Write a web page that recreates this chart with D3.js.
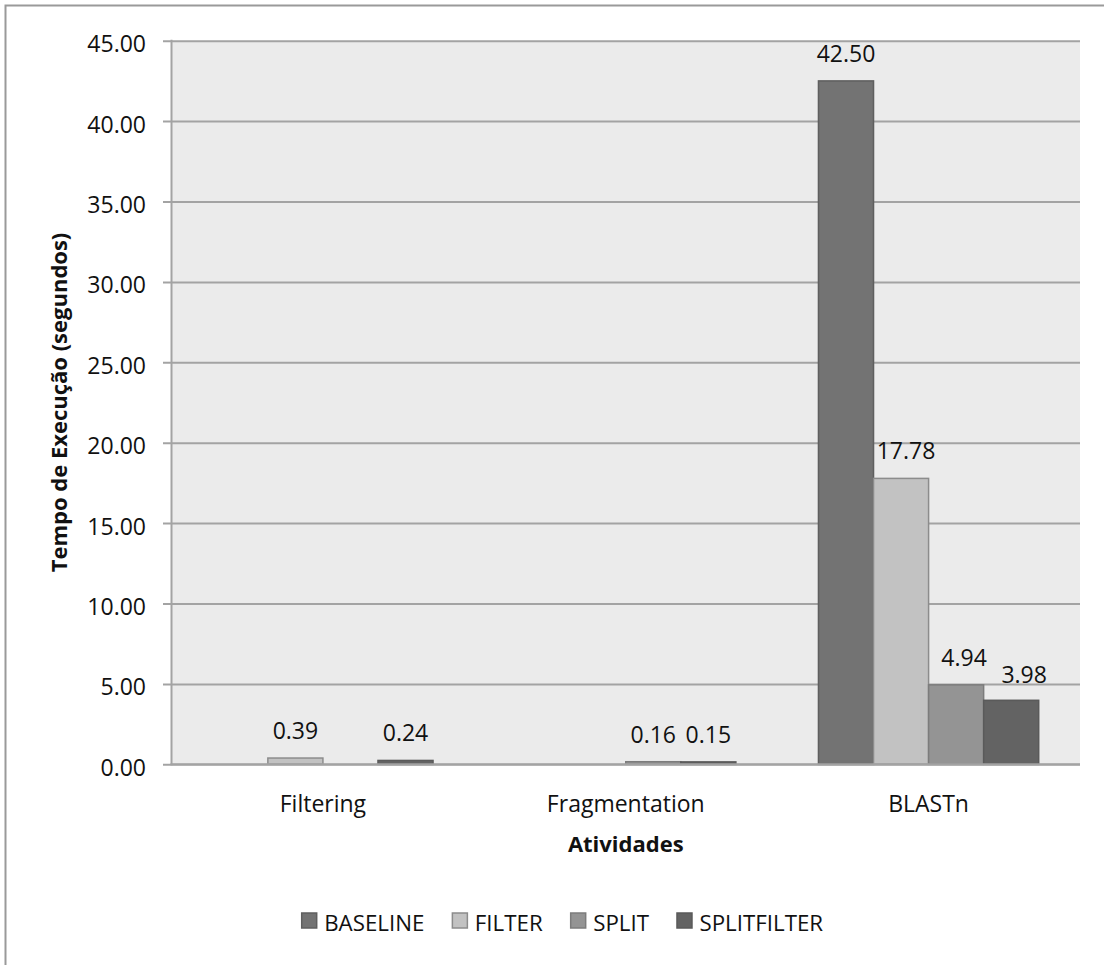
<!DOCTYPE html>
<html>
<head>
<meta charset="utf-8">
<script src="https://cdn.jsdelivr.net/npm/d3@7/dist/d3.min.js"></script>
<style>
  html, body { margin: 0; padding: 0; background: #ffffff; }
  svg { display: block; font-family: "Open Sans", "Noto Sans", sans-serif; }
</style>
</head>
<body>
<svg id="chart" width="1104" height="965"></svg>
<script>
// Activities on the category axis
const categories = ["Filtering", "Fragmentation", "BLASTn"];

// Execution time per configuration (seconds); null = no bar
const seriesNames = ["BASELINE", "FILTER", "SPLIT", "SPLITFILTER"];
const baseline    = [null, null, 42.50];
const filter      = [0.39, null, 17.78];
const split       = [null, 0.16, 4.94];
const splitfilter = [0.24, 0.15, 3.98];

// Value axis ticks
const yTicks = [0, 5, 10, 15, 20, 25, 30, 35, 40, 45];

const seriesValues = [baseline, filter, split, splitfilter];

const fills   = ["#737373", "#c2c2c2", "#949494", "#636363"];
const strokes = ["#5f5f5f", "#8c8c8c", "#7c7c7c", "#5a5a5a"];

const svg = d3.select("#chart");

// chart area frame
svg.append("rect")
  .attr("x", 5.5).attr("y", 5.5)
  .attr("width", 1130).attr("height", 980)
  .attr("fill", "#ffffff")
  .attr("stroke", "#9a9a9a").attr("stroke-width", 2);

const plot = { left: 171.5, right: 1080, top: 40.7, bottom: 764.3 };

const y = d3.scaleLinear().domain([0, 45]).range([plot.bottom, plot.top]);

// gap width 150% of a bar
const gapRatio = 1.5 / (seriesNames.length + 1.5);
const x0 = d3.scaleBand()
  .domain(categories)
  .range([plot.left, plot.right])
  .paddingInner(gapRatio)
  .paddingOuter(gapRatio / 2);
const x1 = d3.scaleBand()
  .domain(seriesNames)
  .range([0, x0.bandwidth()]);

// plot background
svg.append("rect")
  .attr("x", plot.left).attr("y", plot.top)
  .attr("width", plot.right - plot.left)
  .attr("height", plot.bottom - plot.top)
  .attr("fill", "#ebebeb");

// horizontal gridlines + value axis
const yAxis = d3.axisLeft(y)
  .tickValues(yTicks)
  .tickSize(plot.right - plot.left + 8.5)
  .tickFormat(d3.format(".2f"));

const gy = svg.append("g")
  .attr("transform", `translate(${plot.right},0)`)
  .call(yAxis);
gy.select(".domain").remove();
gy.selectAll(".tick line")
  .attr("stroke", "#a3a3a3").attr("stroke-width", 2);
gy.selectAll(".tick text")
  .attr("x", -(plot.right - 146))
  .attr("dy", null)
  .attr("y", 11)
  .attr("text-anchor", "end")
  .attr("fill", "#111")
  .style("font-size", "23px")
  .style("font-family", "'Open Sans', sans-serif");

// vertical axis line
svg.append("line")
  .attr("x1", plot.left).attr("x2", plot.left)
  .attr("y1", plot.top - 1).attr("y2", plot.bottom + 1)
  .attr("stroke", "#a3a3a3").attr("stroke-width", 2);

// bars
const rows = [];
categories.forEach((c, ci) => {
  seriesNames.forEach((s, si) => {
    const v = seriesValues[si][ci];
    if (v !== null) rows.push({ c, s, si, v });
  });
});

svg.append("g").selectAll("rect")
  .data(rows)
  .join("rect")
  .attr("x", d => x0(d.c) + x1(d.s))
  .attr("y", d => y(d.v))
  .attr("width", x1.bandwidth())
  .attr("height", d => y(0) - y(d.v))
  .attr("fill", d => fills[d.si])
  .attr("stroke", d => strokes[d.si])
  .attr("stroke-width", 1.5);

// category axis line
svg.append("line")
  .attr("x1", plot.left - 1).attr("x2", plot.right)
  .attr("y1", plot.bottom).attr("y2", plot.bottom)
  .attr("stroke", "#a3a3a3").attr("stroke-width", 2);

// value labels (crowded BLASTn labels nudged right)
const nudge = { "BLASTn|FILTER": [5, 0], "BLASTn|SPLIT": [8, 0], "BLASTn|SPLITFILTER": [13, 2] };
svg.append("g").selectAll("text")
  .data(rows)
  .join("text")
  .attr("x", d => x0(d.c) + x1(d.s) + x1.bandwidth() / 2 + (nudge[d.c + "|" + d.s] || [0, 0])[0])
  .attr("y", d => y(d.v) - 19 + (nudge[d.c + "|" + d.s] || [0, 0])[1])
  .attr("text-anchor", "middle")
  .attr("fill", "#111")
  .style("font-size", "23px")
  .text(d => d3.format(".2f")(d.v));

// category labels
svg.append("g").selectAll("text")
  .data(categories)
  .join("text")
  .attr("x", d => x0(d) + x0.bandwidth() / 2)
  .attr("y", 811.7)
  .attr("text-anchor", "middle")
  .attr("fill", "#111")
  .style("font-size", "23px")
  .text(d => d);

// axis titles
svg.append("text")
  .attr("x", (plot.left + plot.right) / 2)
  .attr("y", 851.7)
  .attr("text-anchor", "middle")
  .attr("fill", "#111")
  .style("font-size", "22px")
  .style("font-weight", "bold")
  .text("Atividades");

svg.append("text")
  .attr("transform", `translate(67,${(plot.top + plot.bottom) / 2}) rotate(-90)`)
  .attr("text-anchor", "middle")
  .attr("fill", "#111")
  .style("font-size", "22px")
  .style("font-weight", "bold")
  .text("Tempo de Execução (segundos)");

// legend
const legend = svg.append("g");
let lx = 301.7;
seriesNames.forEach((s, si) => {
  legend.append("rect")
    .attr("x", lx).attr("y", 913)
    .attr("width", 15).attr("height", 15)
    .attr("fill", fills[si])
    .attr("stroke", strokes[si]).attr("stroke-width", 1.5);
  const t = legend.append("text")
    .attr("x", lx + 22.5)
    .attr("y", 930.7)
    .attr("fill", "#111")
    .style("font-size", "22.3px")
    .text(s);
  lx += 22.5 + t.node().getComputedTextLength() + 28;
});
</script>
</body>
</html>
